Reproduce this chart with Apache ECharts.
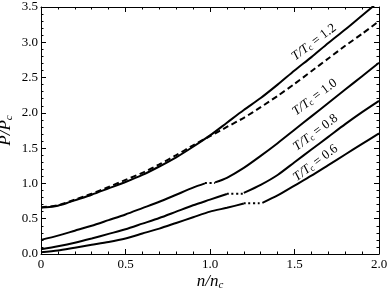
<!DOCTYPE html>
<html>
<head>
<meta charset="utf-8">
<script src="https://cdn.jsdelivr.net/npm/echarts@6/dist/echarts.min.js"></script>
<style>html,body{margin:0;padding:0;background:#fff}#c{width:389px;height:292px}</style>
</head>
<body>
<div id="c"></div>
<script>
// ---- data ----
const gridX = [0,0.1,0.2,0.3,0.4,0.5,0.6,0.7,0.8,0.9,1.0,1.1,1.2,1.3,1.4,1.5,1.6,1.7,1.8,1.9,2.0];

// T/Tc = 1.2 (solid)
const t12_x = [0,0.05,0.1,0.15,0.2,0.3,0.4,0.5,0.6,0.7,0.8,0.9,1.0,1.1,1.2,1.3,1.4,1.5,1.6,1.7,1.8,1.9,2.0];
const t12_y = [0.66,0.665,0.685,0.72,0.76,0.84,0.93,1.02,1.12,1.24,1.37,1.52,1.68,1.86,2.04,2.21,2.40,2.60,2.79,2.99,3.18,3.38,3.58];
// dashed reference curve
const dash_y = [0.66,0.69,0.77,0.855,0.95,1.05,1.15,1.27,1.40,1.54,1.67,1.80,1.93,2.08,2.24,2.41,2.59,2.77,2.95,3.12,3.30];

// T/Tc = 1.0
const t10_lo_x = [0,0.1,0.2,0.3,0.4,0.5,0.6,0.7,0.8,0.9,0.97];
const t10_lo_y = [0.20,0.26,0.33,0.40,0.48,0.56,0.65,0.74,0.84,0.94,1.00];
const t10_hi_x = [1.03,1.1,1.2,1.3,1.4,1.5,1.6,1.7,1.8,1.9,2.0];
const t10_hi_y = [1.015,1.08,1.22,1.39,1.57,1.76,1.95,2.14,2.33,2.52,2.71];
const t10_coex = [0.97,1.03,1.005];

// T/Tc = 0.8
const t08_lo_x = [0,0.1,0.2,0.3,0.4,0.5,0.6,0.7,0.8,0.9,1.0,1.1];
const t08_lo_y = [0.067,0.11,0.16,0.22,0.285,0.35,0.43,0.51,0.60,0.69,0.77,0.85];
const t08_hi_x = [1.2,1.3,1.4,1.5,1.6,1.7,1.8,1.9,2.0];
const t08_hi_y = [0.865,0.98,1.12,1.30,1.48,1.66,1.84,2.01,2.17];
const t08_coex = [1.1,1.2,0.855];

// T/Tc = 0.6
const t06_lo_x = [0,0.1,0.2,0.3,0.4,0.5,0.6,0.7,0.8,0.9,1.0,1.1,1.2];
const t06_lo_y = [0.025,0.05,0.09,0.13,0.17,0.22,0.29,0.36,0.44,0.52,0.60,0.655,0.715];
const t06_hi_x = [1.31,1.4,1.5,1.6,1.7,1.8,1.9,2.0];
const t06_hi_y = [0.725,0.83,0.97,1.11,1.26,1.41,1.56,1.71];
const t06_coex = [1.2,1.31,0.72];

// curve labels: [text value, anchor x, anchor y]
const labelVals = ['1.2','1.0','0.8','0.6'];
const labelAnchors = [[1.615,3.00],[1.62,2.22],[1.625,1.72],[1.625,1.29]];

const xTicks = ['0','0.5','1.0','1.5','2.0'];

// ---- build ----
const zip = (xs, ys) => xs.map((x,i)=>[x, ys[i]]);
const serif = '"Liberation Serif", "DejaVu Serif", serif';
const solid = {color:'#000', width:2, type:'solid'};

function line(data, style, z) {
  return {type:'line', data, showSymbol:false, symbol:'none', smooth:0.25,
    lineStyle:style, itemStyle:{color:'#000'}, z:z||2, silent:true, animation:false, clip:true};
}
function coex(c) {
  return line([[c[0],c[2]],[c[1],c[2]]], {color:'#000', width:2, type:[2,2.6]}, 3);
}

const series = [
  line(zip(gridX, dash_y), {color:'#000', width:2, type:[6,3.5]}, 3),
  line(zip(t12_x, t12_y), solid),
  line(zip(t10_lo_x, t10_lo_y), solid),
  line(zip(t10_hi_x, t10_hi_y), solid),
  coex(t10_coex),
  line(zip(t08_lo_x, t08_lo_y), solid),
  line(zip(t08_hi_x, t08_hi_y), solid),
  coex(t08_coex),
  line(zip(t06_lo_x, t06_lo_y), solid),
  line(zip(t06_hi_x, t06_hi_y), solid),
  coex(t06_coex)
];

// labels as a markPoint-only series
series.push({
  type:'line', data:[], silent:true, animation:false,
  markPoint:{
    symbol:'circle', symbolSize:0, animation:false,
    data: labelVals.map((v,i)=>({coord:labelAnchors[i], value:v})),
    label:{show:true, position:'inside', rotate:37, color:'#000',
      formatter: p => '{i|T/T}{s|c}{n| = ' + p.value + '}',
      rich:{
        i:{fontFamily:serif, fontStyle:'italic', fontWeight:'normal', fontSize:13, color:'#000'},
        s:{fontFamily:serif, fontWeight:'normal', fontSize:9, color:'#000', padding:[5,0,0,0]},
        n:{fontFamily:serif, fontWeight:'normal', fontSize:13, color:'#000'}
      }}
  }
});

const axisCommon = {
  axisLine:{show:true, onZero:false, lineStyle:{color:'#000', width:1}},
  axisTick:{show:true, inside:true, length:5, lineStyle:{color:'#000', width:1}},
  minorTick:{show:true, splitNumber:5, length:2.5, lineStyle:{color:'#000', width:1}},
  splitLine:{show:false}
};
const nameRich = {
  i:{fontFamily:serif, fontStyle:'italic', fontWeight:'normal', fontSize:17, color:'#000'},
  s:{fontFamily:serif, fontStyle:'italic', fontWeight:'normal', fontSize:11, color:'#000', padding:[8,0,0,0]}
};

const chart = echarts.init(document.getElementById('c'), null, {renderer:'canvas'});
chart.setOption({
  animation:false,
  backgroundColor:'#fff',
  grid:{left:41, right:10, top:7, bottom:38, containLabel:false, outerBoundsMode:'none'},
  xAxis:[
    Object.assign({type:'value', min:0, max:2, interval:0.5, position:'bottom',
      axisLabel:{color:'#000', fontFamily:serif, fontSize:13, margin:4,
        formatter:(v)=>xTicks[Math.round(v/0.5)]},
      name:'{i|n/n}{s|c}', nameLocation:'middle', nameGap:18, nameMoveOverlap:false,
      nameTextStyle:{fontWeight:'normal', rich:nameRich}}, axisCommon),
    Object.assign({type:'value', min:0, max:2, interval:0.5, position:'top',
      axisLabel:{show:false}}, axisCommon)
  ],
  yAxis:[
    Object.assign({type:'value', min:0, max:3.5, interval:0.5, position:'left',
      axisLabel:{color:'#000', fontFamily:serif, fontSize:13, margin:3,
        formatter:(v)=>v.toFixed(1)},
      name:'{i|P/P}{s|c}', nameLocation:'middle', nameGap:26, nameRotate:90, nameMoveOverlap:false,
      nameTextStyle:{fontWeight:'normal', rich:nameRich}}, axisCommon),
    Object.assign({type:'value', min:0, max:3.5, interval:0.5, position:'right',
      axisLabel:{show:false}}, axisCommon)
  ],
  series: series
});
</script>
</body>
</html>
